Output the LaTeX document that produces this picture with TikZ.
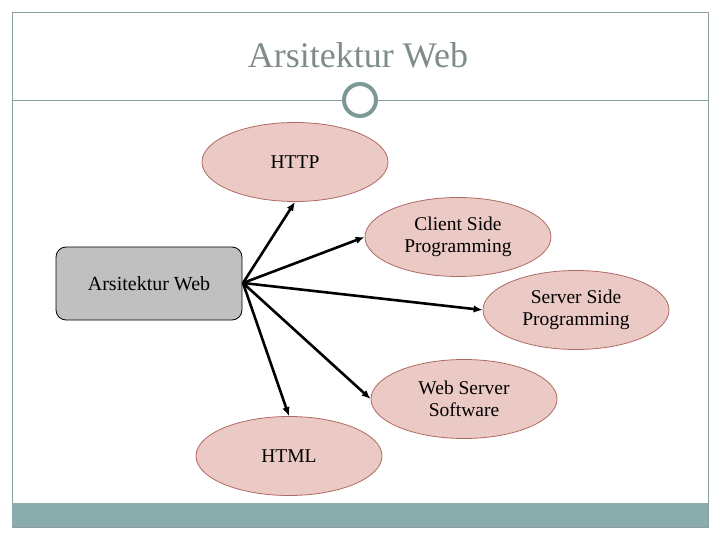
\documentclass[tikz,border=0pt]{standalone}
\usepackage{fontspec}
\setmainfont{Liberation Serif}
\usetikzlibrary{shapes.geometric,arrows.meta}
\definecolor{framec}{HTML}{8A9E9E}
\definecolor{barc}{HTML}{8BACAC}
\definecolor{titlec}{HTML}{7F8C8C}
\definecolor{ringc}{HTML}{7E9898}
\definecolor{ellfill}{HTML}{EBC9C5}
\definecolor{elldraw}{HTML}{B06A64}
\definecolor{boxfill}{HTML}{C0C0C0}
\tikzset{
  topic/.style={ellipse, draw=elldraw, fill=ellfill, line width=0.8pt,
    minimum width=186pt, minimum height=79pt, inner sep=0pt, align=center,
    font=\fontsize{19.5}{22}\selectfont},
  mainbox/.style={rectangle, rounded corners=10pt, draw=black, fill=boxfill,
    line width=0.8pt, minimum width=186pt, minimum height=73pt, inner sep=0pt,
    font=\fontsize{20}{22}\selectfont},
  link/.style={line width=2.6pt, -{Latex[length=9pt,width=7.5pt]}},
}
\begin{document}
\begin{tikzpicture}[x=1pt,y=-1pt]
\useasboundingbox (0,0) rectangle (720,540);
% frame
\draw[framec, line width=0.8pt] (12,12) rectangle (708,527);
\fill[barc] (12,503) rectangle (708,527);
\draw[framec, line width=0.8pt] (12,100) -- (342,100);
\draw[framec, line width=0.8pt] (378,100) -- (708,100);
\node[circle, draw=ringc, line width=4pt, minimum size=32pt, inner sep=0pt] (ring) at (360,100) {};
\node[text=titlec, font=\fontsize{36}{40}\selectfont] (title) at (358,55) {Arsitektur Web};
% nodes
\node[mainbox] (main) at (149,283.5) {Arsitektur Web};
\node[topic] (http) at (295,162) {HTTP};
\node[topic] (client) at (458,237) {Client Side\\Programming};
\node[topic] (server) at (576,310) {Server Side\\Programming};
\node[topic] (webserver) at (464,399) {Web Server\\Software};
\node[topic] (html) at (289,456) {HTML};
\coordinate (s) at (243,283);
% links
\draw[link] (s) -- (http.south);
\draw[link] (s) -- (client.west);
\draw[link] (s) -- (server.west);
\draw[link] (s) -- (webserver.west);
\draw[link] (s) -- (html.north);
\end{tikzpicture}
\end{document}
